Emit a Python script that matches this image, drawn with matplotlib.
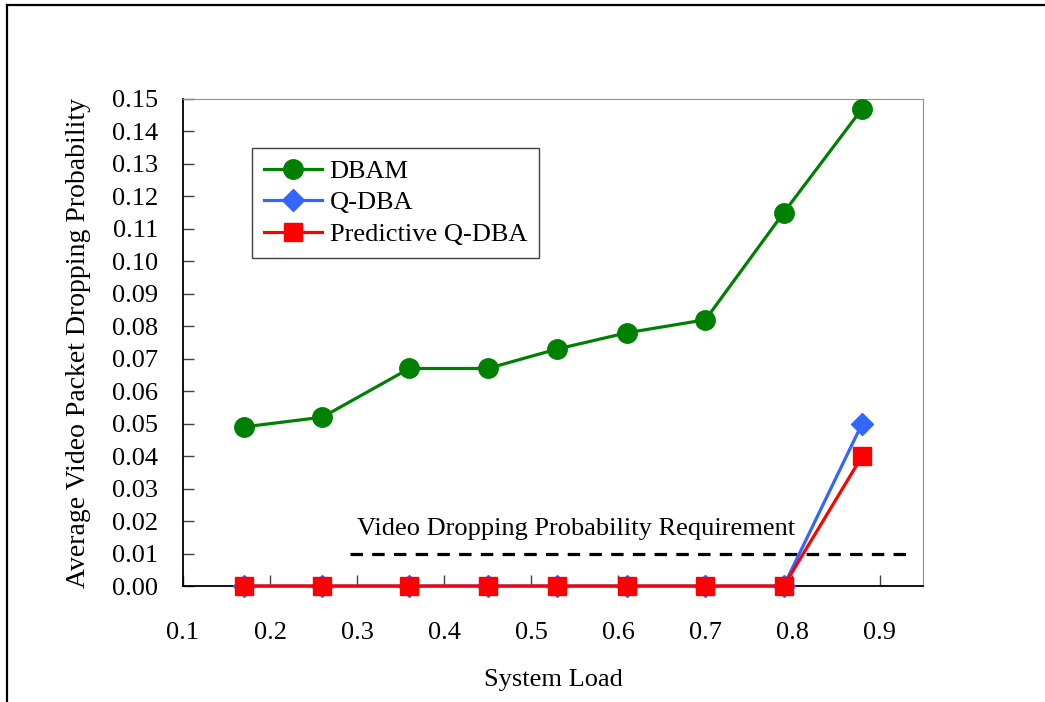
import matplotlib.pyplot as plt
from matplotlib.lines import Line2D
from matplotlib.ticker import FormatStrFormatter

# system load on the x axis
load = [0.17, 0.26, 0.36, 0.45, 0.53, 0.61, 0.70, 0.79, 0.88]

# average video packet dropping probability per scheme
dbam = [0.049, 0.052, 0.067, 0.067, 0.073, 0.078, 0.082, 0.115, 0.147]
qdba = [0.0, 0.0, 0.0, 0.0, 0.0, 0.0, 0.0, 0.0, 0.050]
pred_qdba = [0.0, 0.0, 0.0, 0.0, 0.0, 0.0, 0.0, 0.0, 0.040]

requirement = 0.01
x_ticks = [0.1, 0.2, 0.3, 0.4, 0.5, 0.6, 0.7, 0.8, 0.9]
y_ticks = [i / 100 for i in range(16)]

plt.rcParams['font.family'] = ['Liberation Serif', 'DejaVu Serif']
fs = 19

fig = plt.figure(figsize=(10.45, 7.02), dpi=100)
ax = fig.add_axes([0.1751, 0.1652, 0.7082, 0.6938])

ax.plot(load, dbam, color='#008000', lw=2.3, marker='o', ms=14, label='DBAM',
        clip_on=False, zorder=3)
ax.plot(load, qdba, color='#3366ff', lw=2.3, marker='D', ms=11, label='Q-DBA',
        clip_on=False, zorder=3)
ax.plot(load, pred_qdba, color='#ff0000', lw=2.3, marker='s', ms=13,
        label='Predictive Q-DBA', clip_on=False, zorder=3)

# requirement line and its caption
ax.plot([0.292, 0.94], [requirement, requirement], color='black', lw=2.3,
        linestyle=(0, (3.9, 2.9)), zorder=2)
ax.text(0.300, 0.0175, 'Video Dropping Probability Requirement', fontsize=fs,
        va='center', ha='left')

ax.set_xlim(0.1, 0.95)
ax.set_ylim(0, 0.15)
ax.set_xticks(x_ticks)
ax.set_yticks(y_ticks)
ax.yaxis.set_major_formatter(FormatStrFormatter('%.2f'))
ax.xaxis.set_major_formatter(FormatStrFormatter('%.1f'))
ax.tick_params(axis='both', direction='in', length=8, width=1, color='#404040',
               labelsize=fs)
ax.tick_params(axis='y', pad=18)
ax.tick_params(axis='x', pad=26)

for side in ('top', 'right'):
    ax.spines[side].set_color('#909090')
ax.spines['left'].set_linewidth(1.3)
ax.spines['bottom'].set_linewidth(1.3)

ax.set_xlabel('System Load', fontsize=fs, labelpad=18)
ax.set_ylabel('Average Video Packet Dropping Probability', fontsize=20, labelpad=15)

leg = ax.legend(loc='upper left', bbox_to_anchor=(0.093, 0.90), fontsize=fs,
                fancybox=False, framealpha=1, edgecolor='#404040',
                borderpad=0.45, labelspacing=0.3, handlelength=2.2,
                handletextpad=0.3, borderaxespad=0)
leg.get_frame().set_linewidth(1.0)

# outer frame around the figure (top and left edges)
fig.add_artist(Line2D([7 / 1045, 1.0], [1 - 5 / 702, 1 - 5 / 702],
                      transform=fig.transFigure, color='black', lw=1.6))
fig.add_artist(Line2D([7 / 1045, 7 / 1045], [0.0, 1 - 5 / 702],
                      transform=fig.transFigure, color='black', lw=1.6))

fig.savefig('out.png', dpi=100)
